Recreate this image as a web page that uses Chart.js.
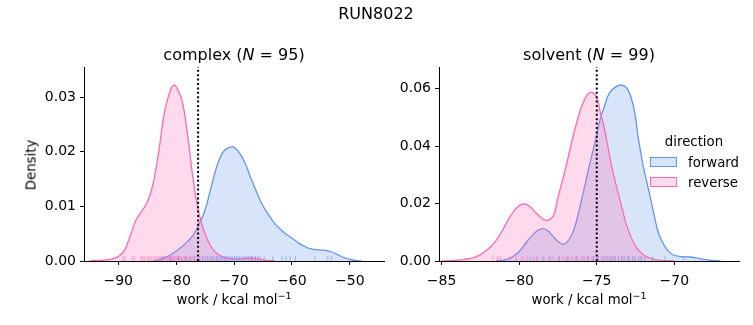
<!DOCTYPE html>
<html>
<head>
<meta charset="utf-8">
<script src="https://cdn.jsdelivr.net/npm/chart.js@4"></script>
<style>
  body { margin: 0; background: #fff; font-family: "DejaVu Sans", sans-serif; }
  #wrap { position: relative; width: 753px; height: 325px; overflow: hidden; }
  canvas { position: absolute; top: 0; }
  .t { position: absolute; white-space: nowrap; color: #000; transform: translate(-50%, -50%); }
  .big { font-size: 16px; }
  .lab { font-size: 13.3px; }
  sup { font-size: 9.5px; vertical-align: 5px; line-height: 0; }
  .box { position: absolute; width: 27px; height: 10px; box-sizing: border-box; }
  .leg { position: absolute; font-size: 13.3px; transform: translateY(-50%); }
</style>
</head>
<body>
<div id="wrap">
  <canvas id="cplx" width="390" height="325" style="left:0"></canvas>
  <canvas id="solv" width="363" height="325" style="left:390px"></canvas>

  <div class="t big" style="left:376px; top:13px">RUN8022</div>
  <div class="t big" style="left:234px; top:54px">complex (<i>N</i> = 95)</div>
  <div class="t big" style="left:589px; top:54px">solvent (<i>N</i> = 99)</div>
  <div class="t lab" style="left:234px; top:299px">work / kcal mol<sup>−1</sup></div>
  <div class="t lab" style="left:589px; top:299px">work / kcal mol<sup>−1</sup></div>
  <div class="t lab" style="left:31px; top:165px; transform: translate(-50%,-50%) rotate(-90deg)">Density</div>

  <div class="t lab" style="left:694px; top:141px">direction</div>
  <div class="box" style="left:650px; top:157px; border:1px solid #6495ed; background:rgba(100,149,237,0.25)"></div>
  <div class="leg" style="left:688px; top:162px">forward</div>
  <div class="box" style="left:650px; top:177px; border:1px solid #ff69b4; background:rgba(255,105,180,0.25)"></div>
  <div class="leg" style="left:688px; top:182px">reverse</div>
</div>

<script>
// ---- complex panel ----
const cplxFwdX = [-84, -83, -82, -81, -80, -79, -78, -77, -76, -75, -74, -73, -72, -71, -70.4, -70, -69, -68, -67, -66, -65, -64, -63, -62, -61, -60, -59, -58, -57, -56, -55, -54, -53, -52, -51, -50, -49, -48];
const cplxFwdY = [0, 0.0002, 0.0006, 0.0011, 0.0018, 0.0026, 0.0036, 0.0048, 0.0068, 0.0093, 0.0133, 0.0172, 0.0198, 0.0207, 0.0209, 0.0208, 0.0197, 0.0177, 0.0149, 0.0124, 0.0101, 0.0084, 0.0069, 0.0058, 0.0049, 0.0042, 0.0034, 0.0028, 0.0023, 0.0021, 0.0020, 0.0019, 0.0016, 0.0011, 0.0006, 0.0003, 0.0001, 0];

const cplxRevX = [-95, -94, -93, -92, -91, -90, -89, -88, -87, -86, -85, -84, -83, -82, -81, -80.4, -80, -79, -78, -77, -76, -75, -74, -73, -72, -71, -70, -69, -68, -67, -66, -65, -64, -63];
const cplxRevY = [0, 0.0001, 0.0001, 0.0002, 0.0004, 0.0008, 0.0018, 0.0043, 0.0073, 0.0090, 0.0107, 0.0140, 0.0200, 0.0273, 0.0312, 0.0322, 0.0319, 0.0295, 0.0230, 0.0145, 0.0085, 0.0050, 0.0027, 0.0014, 0.0008, 0.0005, 0.0004, 0.0004, 0.0005, 0.0005, 0.0004, 0.0002, 0.0001, 0];

const cplxRugRev = [-89.1, -88.8, -87.6, -87.2, -86.0, -85.7, -85.4, -84.9, -84.6, -84.2, -83.8, -83.5, -83.1, -82.8, -82.5, -82.2, -82.0, -81.7, -81.5, -81.2, -81.0, -80.8, -80.6, -80.4, -80.2, -80.0, -79.8, -79.6, -79.3, -79.1, -78.8, -78.5, -78.2, -77.9, -77.5, -77.2, -76.8, -76.4, -75.9, -75.3, -74.6, -73.8, -72.9, -71.5, -67.6, -67.0, -66.3, -65.8];
const cplxRugFwd = [-82.4, -81.1, -79.6, -78.4, -77.6, -76.8, -75.9, -75.4, -74.9, -74.5, -74.1, -73.7, -73.3, -73.0, -72.6, -72.3, -72.0, -71.7, -71.4, -71.1, -70.8, -70.5, -70.2, -69.9, -69.6, -69.3, -69.0, -68.6, -68.3, -67.9, -67.5, -67.1, -66.8, -66.3, -65.9, -65.4, -64.8, -63.3, -61.7, -61.0, -60.3, -59.4, -56.0, -53.8, -53.2];

const cplxXTicks = [-90, -80, -70, -60, -50];
const cplxYTicks = [0, 0.01, 0.02, 0.03];
const cplxMark = -76.2;

// ---- solvent panel ----
const solvFwdX = [-81.5, -81, -80.5, -80, -79.5, -79, -78.6, -78.2, -77.8, -77.5, -77.2, -76.9, -76.5, -76.1, -75.8, -75.5, -75, -74.8, -74.5, -74.2, -73.8, -73.4, -73, -72.6, -72.3, -72, -71.6, -71.3, -71, -70.6, -70.3, -70, -69.5, -69, -68.5, -68, -67.5, -67];
const solvFwdY = [0, 0.0003, 0.0012, 0.0033, 0.0068, 0.0098, 0.0112, 0.0107, 0.0085, 0.0068, 0.0059, 0.0066, 0.0105, 0.0185, 0.0255, 0.0327, 0.0440, 0.0490, 0.0540, 0.0584, 0.0606, 0.0613, 0.0598, 0.0530, 0.0420, 0.0330, 0.0234, 0.0160, 0.0094, 0.0050, 0.0030, 0.0020, 0.0015, 0.0014, 0.0010, 0.0005, 0.0002, 0];

const solvRevX = [-85, -84.5, -84, -83.5, -83, -82.5, -82, -81.5, -81, -80.5, -80, -79.7, -79.3, -79, -78.5, -78.2, -77.8, -77.5, -77, -76.5, -76, -75.6, -75.3, -75, -74.8, -74.5, -74.2, -74, -73.5, -73, -72.5, -72, -71.5, -71, -70.5, -70];
const solvRevY = [0, 0.0001, 0.0003, 0.0006, 0.0011, 0.0022, 0.0042, 0.0070, 0.0115, 0.0162, 0.0193, 0.0199, 0.0190, 0.0172, 0.0148, 0.0141, 0.0158, 0.0222, 0.0325, 0.0440, 0.0535, 0.0580, 0.0588, 0.0570, 0.0525, 0.0460, 0.0375, 0.0320, 0.0211, 0.0112, 0.0052, 0.0022, 0.0009, 0.0003, 0.0001, 0];

const solvRugRev = [-81.7, -81.4, -81.2, -80.6, -80.2, -79.8, -79.5, -79.1, -78.8, -78.4, -78.1, -77.8, -77.5, -77.2, -77.0, -76.8, -76.6, -76.4, -76.2, -76.0, -75.8, -75.6, -75.5, -75.3, -75.2, -75.0, -74.9, -74.7, -74.5, -74.3, -74.1, -73.9, -73.6, -73.3, -73.0, -72.6, -72.2];
const solvRugFwd = [-79.3, -78.9, -78.5, -78.0, -77.4, -76.9, -76.3, -75.9, -75.6, -75.2, -74.9, -74.6, -74.4, -74.2, -74.0, -73.8, -73.6, -73.4, -73.2, -73.0, -72.9, -72.7, -72.5, -72.3, -72.1, -71.9, -71.4, -70.6, -69.4];

const solvXTicks = [-85, -80, -75, -70];
const solvYTicks = [0, 0.02, 0.04, 0.06];
const solvMark = -75.0;

const BLUE = '#6495ed', PINK = '#ff69b4';

Chart.defaults.font.family = '"DejaVu Sans", sans-serif';
Chart.defaults.font.size = 14;
Chart.defaults.color = '#000';

function pts(xs, ys) { return xs.map((x, i) => ({ x: x, y: ys[i] })); }

function kde(xs, ys, col, fillCol, order) {
  return {
    type: 'line', data: pts(xs, ys), borderColor: col, backgroundColor: fillCol,
    borderWidth: 1.3, fill: 'origin', pointRadius: 0, tension: 0.4, order: order
  };
}

function rug(vals, col, yMax) {
  return {
    type: 'scatter', data: vals.map(v => ({ x: v, y: yMax * 0.0125 })),
    pointStyle: 'line', rotation: 90, pointRadius: 2.4, pointBorderWidth: 1,
    pointBorderColor: col, pointBackgroundColor: col, order: 1
  };
}

function panel(id, o) {
  new Chart(document.getElementById(id), {
    data: {
      datasets: [
        kde(o.fx, o.fy, BLUE, 'rgba(100,149,237,0.25)', 4),
        kde(o.rx, o.ry, PINK, 'rgba(255,105,180,0.25)', 3),
        rug(o.rugF, 'rgba(100,149,237,0.6)', o.yMax),
        rug(o.rugR, 'rgba(255,105,180,0.6)', o.yMax),
        {
          type: 'line', data: [{ x: o.mark, y: 0 }, { x: o.mark, y: o.yMax }],
          borderColor: '#000', borderWidth: 2, borderDash: [2, 2.4], pointRadius: 0, fill: false, order: 0
        }
      ]
    },
    options: {
      responsive: false, animation: false, devicePixelRatio: 1,
      layout: { padding: { top: 67, right: o.padR, left: 0, bottom: 0 } },
      plugins: { legend: { display: false }, tooltip: { enabled: false } },
      scales: {
        x: {
          type: 'linear', min: o.xMin, max: o.xMax,
          afterBuildTicks: s => { s.ticks = o.xTicks.map(v => ({ value: v })); },
          afterFit: s => { s.height = 64; },
          ticks: { padding: 8, callback: v => String(v).replace('-', '\u2212') },
          grid: { drawOnChartArea: false, drawTicks: true, tickLength: 4, color: '#000' },
          border: { color: '#000', width: 1 }
        },
        y: {
          type: 'linear', min: 0, max: o.yMax,
          afterBuildTicks: s => { s.ticks = o.yTicks.map(v => ({ value: v })); },
          afterFit: s => { s.width = o.yW; },
          ticks: { padding: 4, callback: v => v.toFixed(2) },
          grid: { drawOnChartArea: false, drawTicks: true, tickLength: 4, color: '#000' },
          border: { color: '#000', width: 1 }
        }
      }
    }
  });
}

panel('cplx', {
  fx: cplxFwdX, fy: cplxFwdY, rx: cplxRevX, ry: cplxRevY, rugF: cplxRugFwd, rugR: cplxRugRev,
  xTicks: cplxXTicks, yTicks: cplxYTicks, mark: cplxMark,
  xMin: -95.9, xMax: -44.1, yMax: 0.0355, yW: 84, padR: 6
});

panel('solv', {
  fx: solvFwdX, fy: solvFwdY, rx: solvRevX, ry: solvRevY, rugF: solvRugFwd, rugR: solvRugRev,
  xTicks: solvXTicks, yTicks: solvYTicks, mark: solvMark,
  xMin: -85.17, xMax: -65.83, yMax: 0.0676, yW: 49, padR: 14
});
</script>
</body>
</html>
